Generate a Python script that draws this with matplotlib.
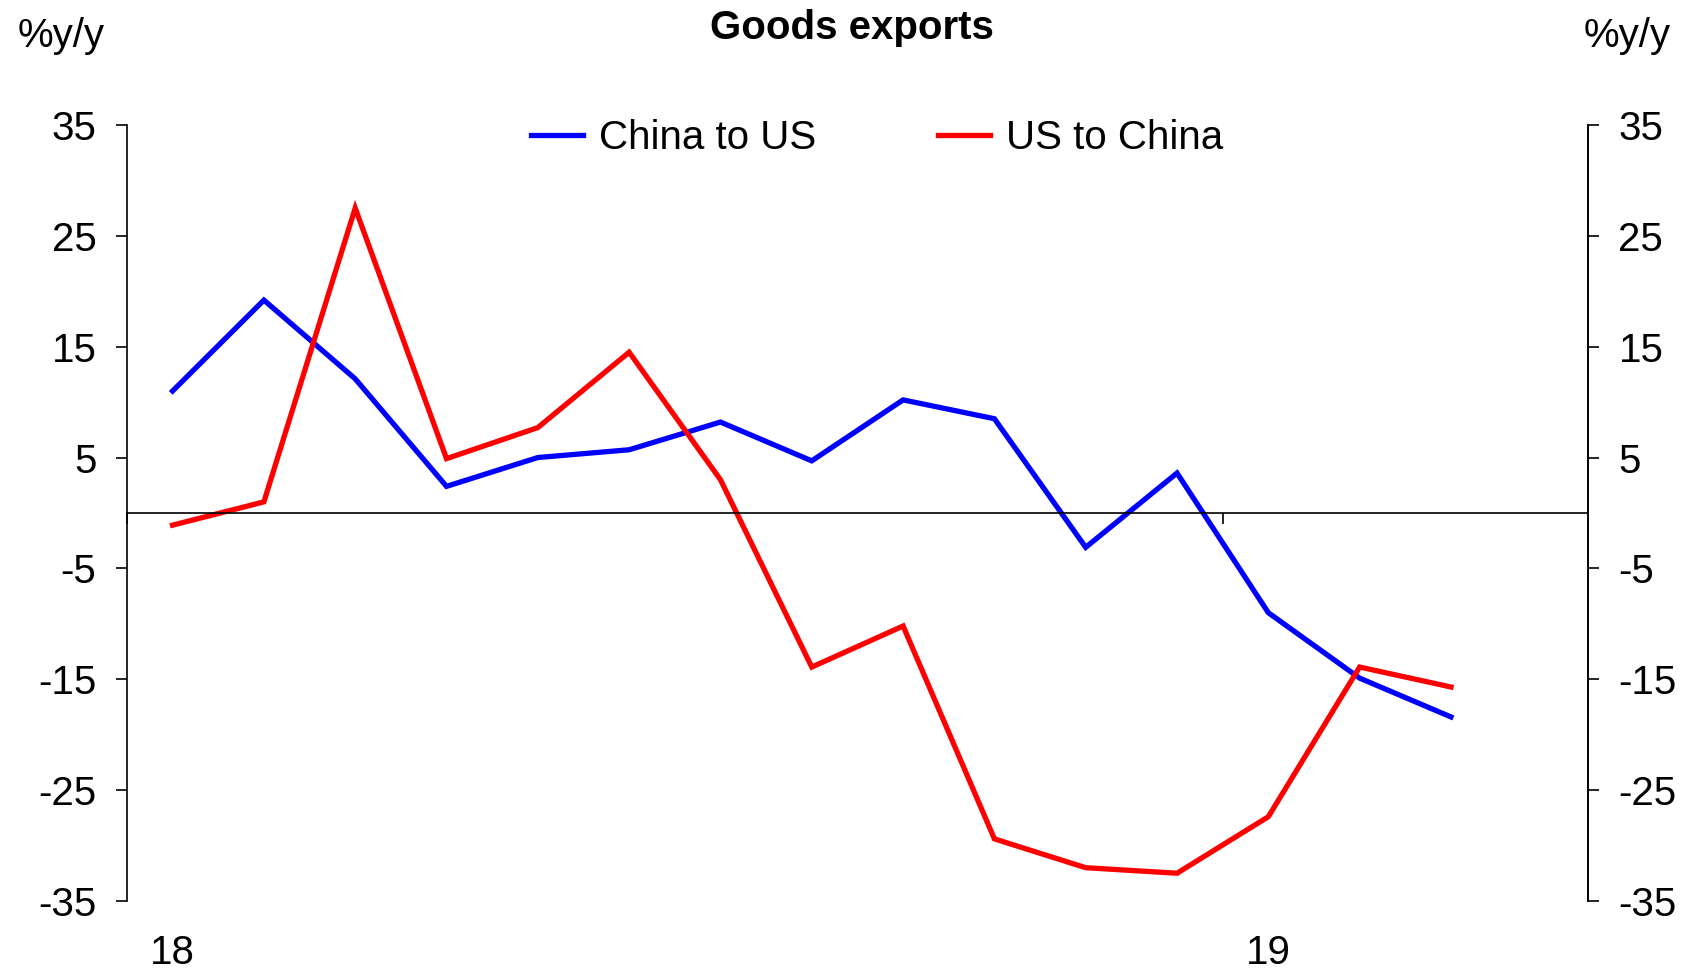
import matplotlib

matplotlib.use("Agg")
import matplotlib.pyplot as plt
import numpy as np

# monthly %y/y, Jan 2018 .. Mar 2019 (category slot for Apr 2019 left empty)
months = ["Jan-18", "Feb-18", "Mar-18", "Apr-18", "May-18", "Jun-18", "Jul-18", "Aug-18",
          "Sep-18", "Oct-18", "Nov-18", "Dec-18", "Jan-19", "Feb-19", "Mar-19"]
china_to_us = [11.0, 19.2, 12.1, 2.4, 5.0, 5.7, 8.2, 4.7, 10.2, 8.5, -3.1, 3.6, -9.0, -14.9, -18.4]
us_to_china = [-1.1, 1.0, 27.5, 4.9, 7.7, 14.5, 3.0, -13.9, -10.2, -29.4, -32.0, -32.5, -27.4, -13.9, -15.7]
n_slots = 16
year_labels = ["18", "19"]
year_starts = [0, 12]
yticks = [35, 25, 15, 5, -5, -15, -25, -35]

plt.rcParams["font.family"] = ["Liberation Sans", "DejaVu Sans"]
FS = 29

fig = plt.figure(figsize=(16.9, 9.74), dpi=100)
ax = fig.add_axes([0.0751, 0.0750, 0.8645, 0.7967])

x = np.arange(len(months))
ax.plot(x, china_to_us, color="#0000FF", lw=3.8, label="China to US", solid_joinstyle="miter")
ax.plot(x, us_to_china, color="#FF0000", lw=3.8, label="US to China", solid_joinstyle="miter")

ax.set_xlim(-0.5, n_slots - 0.5)
ax.set_ylim(-35, 35)
ax.set_yticks(yticks)
ax.set_yticklabels([str(v) for v in yticks], fontsize=FS)
ax.tick_params(axis="y", direction="out", length=8, width=1.2, pad=14)

# x axis sits on zero, with year boundary ticks hanging below it
ax.spines["top"].set_visible(False)
ax.spines["bottom"].set_position(("data", 0))
for s in ("left", "right", "bottom"):
    ax.spines[s].set_linewidth(1.2)
ax.set_xticks([p - 0.5 for p in year_starts])
ax.set_xticklabels([])
ax.tick_params(axis="x", direction="out", length=8, width=1.2)

# year labels along the bottom of the plot area
sec = ax.secondary_xaxis(0)
sec.set_xticks(year_starts)
sec.set_xticklabels(year_labels, fontsize=FS)
sec.tick_params(length=0, pad=24)
sec.spines["bottom"].set_visible(False)

ax2 = ax.twinx()
ax2.set_ylim(-35, 35)
ax2.set_yticks(yticks)
ax2.set_yticklabels([str(v) for v in yticks], fontsize=FS)
ax2.tick_params(axis="y", direction="out", length=8, width=1.2, pad=14)
for s in ("top", "left", "bottom"):
    ax2.spines[s].set_visible(False)
ax2.spines["right"].set_linewidth(1.2)

fig.text(0.504, 0.971, "Goods exports", ha="center", va="center", fontsize=FS, fontweight="bold")
fig.text(0.036, 0.963, "%y/y", ha="center", va="center", fontsize=FS)
fig.text(0.963, 0.963, "%y/y", ha="center", va="center", fontsize=FS)

ax.legend(loc="center", bbox_to_anchor=(0.519, 0.858), bbox_transform=fig.transFigure,
          ncol=2, frameon=False, fontsize=FS, handlelength=1.3, handletextpad=0.4,
          columnspacing=3.0)

fig.savefig("out.png", dpi=100)
